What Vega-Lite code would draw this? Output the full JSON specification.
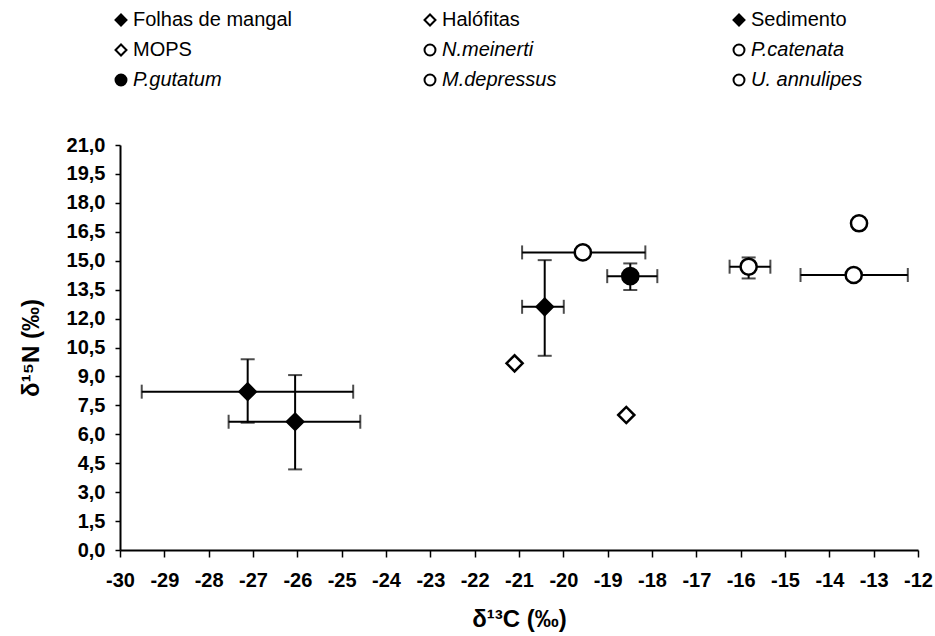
{
  "$schema": "https://vega.github.io/schema/vega-lite/v6.json",
  "width": 798,
  "height": 405,
  "autosize": {"type": "none"},
  "padding": {"left": 120, "top": 145, "right": 17, "bottom": 86},
  "background": "white",
  "config": {
    "view": {"stroke": null},
    "font": "Liberation Sans",
    "axis": {
      "grid": false,
      "domainColor": "black", "domainWidth": 2,
      "tickColor": "black", "tickWidth": 1.5,
      "labelFont": "Liberation Sans", "labelFontWeight": "bold", "labelFontSize": 20, "labelColor": "black",
      "labelFlush": false, "labelOverlap": false,
      "titleFont": "Liberation Sans", "titleFontSize": 24, "titleFontWeight": "bold", "titleColor": "black"
    },
    "axisX": {"tickSize": 7, "labelPadding": 13, "titlePadding": 17},
    "axisY": {"tickSize": 5, "labelPadding": 10, "titlePadding": 23}
  },
  "data": {
    "values": [
      {"grupo": "Folhas de mangal", "x": -27.12, "y": 8.21, "xlo": -29.51, "xhi": -24.74, "ylo": 6.6, "yhi": 9.89},
      {"grupo": "Folhas de mangal", "x": -26.05, "y": 6.65, "xlo": -27.55, "xhi": -24.58, "ylo": 4.18, "yhi": 9.07},
      {"grupo": "Halófitas", "x": -21.1, "y": 9.68, "xlo": null, "xhi": null, "ylo": null, "yhi": null},
      {"grupo": "MOPS", "x": -18.58, "y": 7.0, "xlo": null, "xhi": null, "ylo": null, "yhi": null},
      {"grupo": "Sedimento", "x": -20.42, "y": 12.61, "xlo": -20.93, "xhi": -19.99, "ylo": 10.07, "yhi": 15.03},
      {"grupo": "N.meinerti", "x": -19.56, "y": 15.43, "xlo": -20.93, "xhi": -18.15, "ylo": null, "yhi": null},
      {"grupo": "P.gutatum", "x": -18.49, "y": 14.2, "xlo": -19.01, "xhi": -17.88, "ylo": 13.48, "yhi": 14.86},
      {"grupo": "P.catenata", "x": -15.82, "y": 14.69, "xlo": -16.25, "xhi": -15.33, "ylo": 14.08, "yhi": 15.17},
      {"grupo": "M.depressus", "x": -13.45, "y": 14.26, "xlo": -14.65, "xhi": -12.23, "ylo": null, "yhi": null},
      {"grupo": "U. annulipes", "x": -13.33, "y": 16.94, "xlo": null, "xhi": null, "ylo": null, "yhi": null}
    ]
  },
  "layer": [
    {
      "transform": [{"filter": "isValid(datum.xlo)"}],
      "mark": {"type": "errorbar", "color": "black", "rule": {"strokeWidth": 2}, "ticks": {"size": 14, "thickness": 2, "color": "black"}},
      "encoding": {
        "x": {
          "field": "xlo", "type": "quantitative", "title": "δ¹³C (‰)",
          "scale": {"domain": [-30, -12], "nice": false, "zero": false},
          "axis": {"values": [-30, -29, -28, -27, -26, -25, -24, -23, -22, -21, -20, -19, -18, -17, -16, -15, -14, -13, -12], "labelExpr": "'' + datum.value"}
        },
        "x2": {"field": "xhi"},
        "y": {
          "field": "y", "type": "quantitative", "title": "δ¹⁵N (‰)",
          "scale": {"domain": [0, 21], "nice": false, "zero": false},
          "axis": {"values": [0, 1.5, 3, 4.5, 6, 7.5, 9, 10.5, 12, 13.5, 15, 16.5, 18, 19.5, 21], "labelExpr": "replace(format(datum.value, '.1f'), '.', ',')"}
        }
      }
    },
    {
      "transform": [{"filter": "isValid(datum.ylo)"}],
      "mark": {"type": "errorbar", "color": "black", "rule": {"strokeWidth": 2}, "ticks": {"size": 14, "thickness": 2, "color": "black"}},
      "encoding": {
        "y": {
          "field": "ylo", "type": "quantitative", "title": "δ¹⁵N (‰)",
          "scale": {"domain": [0, 21], "nice": false, "zero": false},
          "axis": {"values": [0, 1.5, 3, 4.5, 6, 7.5, 9, 10.5, 12, 13.5, 15, 16.5, 18, 19.5, 21], "labelExpr": "replace(format(datum.value, '.1f'), '.', ',')"}
        },
        "y2": {"field": "yhi"},
        "x": {
          "field": "x", "type": "quantitative", "title": "δ¹³C (‰)",
          "scale": {"domain": [-30, -12], "nice": false, "zero": false},
          "axis": {"values": [-30, -29, -28, -27, -26, -25, -24, -23, -22, -21, -20, -19, -18, -17, -16, -15, -14, -13, -12], "labelExpr": "'' + datum.value"}
        }
      }
    },
    {
      "mark": {"type": "point", "filled": true, "strokeWidth": 2.5, "opacity": 1},
      "encoding": {
        "x": {
          "field": "x", "type": "quantitative", "title": "δ¹³C (‰)",
          "scale": {"domain": [-30, -12], "nice": false, "zero": false},
          "axis": {"values": [-30, -29, -28, -27, -26, -25, -24, -23, -22, -21, -20, -19, -18, -17, -16, -15, -14, -13, -12], "labelExpr": "'' + datum.value"}
        },
        "y": {
          "field": "y", "type": "quantitative", "title": "δ¹⁵N (‰)",
          "scale": {"domain": [0, 21], "nice": false, "zero": false},
          "axis": {"values": [0, 1.5, 3, 4.5, 6, 7.5, 9, 10.5, 12, 13.5, 15, 16.5, 18, 19.5, 21], "labelExpr": "replace(format(datum.value, '.1f'), '.', ',')"}
        },
        "shape": {
          "field": "grupo", "type": "nominal",
          "scale": {
            "domain": ["Folhas de mangal", "Halófitas", "Sedimento", "MOPS", "N.meinerti", "P.catenata", "P.gutatum", "M.depressus", "U. annulipes"],
            "range": ["diamond", "diamond", "diamond", "diamond", "circle", "circle", "circle", "circle", "circle"]
          },
          "legend": {
            "title": null, "orient": "none", "legendX": -9, "legendY": -135, "columns": 3, "direction": "horizontal",
            "gridAlign": "all", "columnPadding": 128, "rowPadding": 10,
            "labelFont": "Liberation Sans", "labelFontSize": 20, "labelColor": "black", "labelLimit": 400,
            "labelFontStyle": {"expr": "indexof(['N.meinerti','P.catenata','P.gutatum','M.depressus','U. annulipes'], datum.label) >= 0 ? 'italic' : 'normal'"},
            "symbolSize": 120, "symbolStrokeWidth": 2, "labelOffset": 2
          }
        },
        "fill": {
          "field": "grupo", "type": "nominal",
          "scale": {
            "domain": ["Folhas de mangal", "Halófitas", "Sedimento", "MOPS", "N.meinerti", "P.catenata", "P.gutatum", "M.depressus", "U. annulipes"],
            "range": ["black", "white", "black", "white", "white", "white", "black", "white", "white"]
          },
          "legend": {
            "title": null, "orient": "none", "legendX": -9, "legendY": -135, "columns": 3, "direction": "horizontal",
            "gridAlign": "all", "columnPadding": 128, "rowPadding": 10,
            "labelFont": "Liberation Sans", "labelFontSize": 20, "labelColor": "black", "labelLimit": 400,
            "labelFontStyle": {"expr": "indexof(['N.meinerti','P.catenata','P.gutatum','M.depressus','U. annulipes'], datum.label) >= 0 ? 'italic' : 'normal'"},
            "symbolSize": 120, "symbolStrokeWidth": 2, "labelOffset": 2
          }
        },
        "stroke": {
          "field": "grupo", "type": "nominal",
          "scale": {
            "domain": ["Folhas de mangal", "Halófitas", "Sedimento", "MOPS", "N.meinerti", "P.catenata", "P.gutatum", "M.depressus", "U. annulipes"],
            "range": ["black", "black", "black", "black", "black", "black", "black", "black", "black"]
          },
          "legend": {
            "title": null, "orient": "none", "legendX": -9, "legendY": -135, "columns": 3, "direction": "horizontal",
            "gridAlign": "all", "columnPadding": 128, "rowPadding": 10,
            "labelFont": "Liberation Sans", "labelFontSize": 20, "labelColor": "black", "labelLimit": 400,
            "labelFontStyle": {"expr": "indexof(['N.meinerti','P.catenata','P.gutatum','M.depressus','U. annulipes'], datum.label) >= 0 ? 'italic' : 'normal'"},
            "symbolSize": 120, "symbolStrokeWidth": 2, "labelOffset": 2
          }
        },
        "size": {"value": 260}
      }
    }
  ]
}
